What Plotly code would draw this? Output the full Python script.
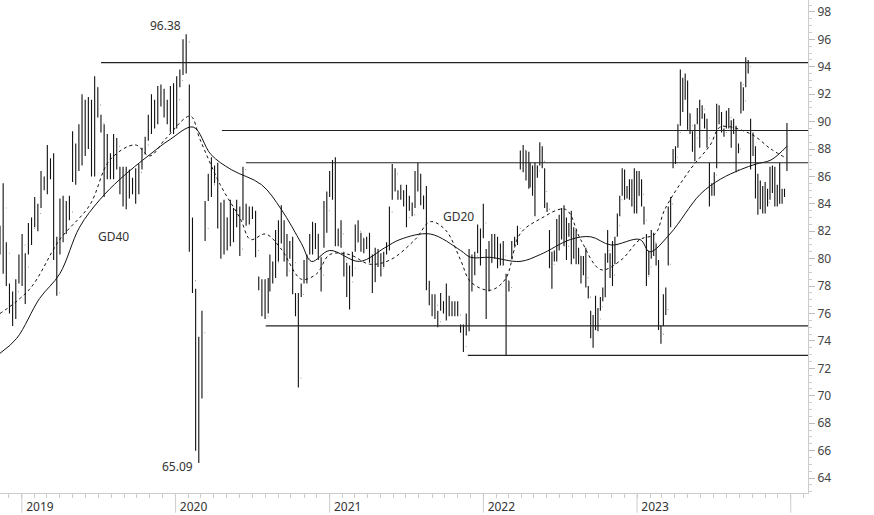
import numpy as np
import pandas as pd
import plotly.graph_objects as go

seg1 = [
(82.4,80.3,81.0),(85.5,78.9,83.7),(81.2,78,80.4),(78.2,76,76.6),(77.6,75.1,76.4),(78.5,75.6,77.6),(80.3,78.2,79.5),(81.8,78,81),(80.4,76.7,79.4),(82.6,80.3,81.2),(83,81,82.2),(84.5,82.3,83.3),(84,82,83.3),(86.4,83.7,85.6),(86,85,85.9),(88.3,84.7,87.3),(87.3,85.8,86.2),(87.7,79.9,80.5),(81.6,77.3,77.5),(84.4,80.3,81.4),(84.6,81.2,82.7),(84.2,81.8,82.9),(84.6,82.8,83.4),(89.3,85.6,87.4),(88.4,85.4,87),(89.8,86.4,88.7),(92,86.8,89.3),(91.6,87.5,89.6),(91.8,88,89.2),(91.6,86,86.1),(93.3,86,92.5),(92.5,90.3,91.2),(90.5,89.2,89.9),(89.8,84.5,87.3),(89.1,85.8,87.1),(87.7,85.8,86.4),(89.1,85.8,87.8),(88.8,86.5,88.2),(86.7,84.7,85.3),(86.7,83.8,84.8),(86.7,83.6,85.5),(86.5,84.4,85.2),(85.9,84.7,85.2),(86.6,84,85),(86.9,84.7,86.3),(88.1,86.5,87.9),(88.9,87.6,88.3),(90.5,88.6,89.9),(92,89.1,91.2),(91.6,89.5,90.8),(92.6,89.8,92.4),(92.7,91.1,91.8),(92.4,90.3,91.1),(91.6,89.8,90.5),(92.6,89.2,90.9),(92.8,89.1,89.6),(93.3,89.5,91.6),(93.8,92.5,93),(96.0,93.4,94.8),(96.38,93.5,95.8),(92.7,80.5,81.4),(83,77.5,78.4),(77.8,66,68),(74.3,65.09,70.5),(76.2,69.8,74.6),(84.2,81.3,82.2),
(86.2,84.2,85.2),(87.4,84.5,85.4),(86.8,85.5,86.3),(87,82.2,82.4),(84.1,80,81.9),(84.3,80.3,83),(83,80.6,81.9),(84.3,80.9,81.9),(83.7,81.2,82.6),(84.3,82.3,83.7),(83.8,80.2,80.7),(86.7,82.8,86.5),(84,82.4,82.8),(83.8,82.5,83.5),(83.8,82.9,83.4),(83.5,80.1,80.6),(78.7,77.7,78.1),(78.5,75.8,76.1),(78.5,75.6,75.8),(78.6,76,77.9),
]
seg2 = [
(80.3,77.6,78.5),(79.8,78.2,79.5),(82.1,78.6,79.7),(82.8,79.8,81.6),(83.9,81.1,82.6),(82.8,79.8,80.1),(81.8,78.7,79.1),(81.3,80,80.7),(81.6,77.4,79.7),(77.5,75.8,76.5),(77.5,70.6,71.3),(78.2,77.2,77.4),(79.9,78.2,79.7),(80.3,78.2,80),(81.8,80.3,81.2),(82.7,80.3,81.6),(82.6,80.7,81.8),(81.8,79.9,80.2),(80.1,77.6,78.8),(84.2,80.8,82.4),(84.9,81.9,83.5),(86.4,84.5,85.6),(87.2,84.3,86.4),(87.4,80.9,81.4),(82.2,80.9,81.7),(82.8,80.8,81.8),(80.5,78.7,79.9),(79.7,77.2,77.8),(79.5,76.3,78.3),(80.5,78.7,79.3),(82.5,80.5,81.2),(82.8,81.2,82),(81.9,80.5,81.5),(81.5,80.4,81),(81.6,80.7,81.2),(81.9,79.7,80.2),(80.3,77.5,78.3),(80.8,78.3,79.6),(80.7,79.4,80.2),(80.4,78.7,79.3),(80.5,79.4,79.8),(81.2,80.3,80.9),(83.8,80.6,83.4),(86.9,84.3,85.2),(86.6,84.9,86.2),(85,84.3,84.8),(85.4,84.3,84.9),(85,83.8,84.3),(85.4,82.3,83),(84.6,83.5,83.9),(84.1,83.1,83.2),(86.4,83.7,85.6),(87,84.9,86.1),(86.2,83.9,84.6),(84.6,83.6,84.1),(85.3,77.7,78),(78.4,76.6,77),(77.4,75.8,76.9),(77.4,75.6,76.6),(76.2,75,75.4),(77.5,76.2,76.9),(76.9,76,76.4),(78.2,75.5,76),(77.3,75.8,76.3),(76.9,75.8,76.5),(76.9,75.8,76.4),(76.9,75.8,75.9),(75.2,74.6,74.8),(75.2,73.2,73.6),(76,74.4,75.1),(80.7,74.7,79.5),(80.3,77.6,79.2),(80.5,78.8,80.2),(82.5,80.4,80.8),(82.2,79.5,81.7),(84,81.5,82.6),(80.7,75.6,79.5),(81.3,77.6,79.7),(81.8,79.7,80.3),(81.8,80,80.7),(81.6,79.3,79.9),(81.1,79.5,80.1),(81.3,79.5,80.2),(78.9,72.95,78.4),(78.4,77.6,77.9),(81.3,80,80.6),(81.6,80.9,81.2),(82.4,81,82.2),(87.9,86.5,87.3),(88.3,86.3,87.9),(87.9,85.7,86.8),(87.8,85.1,86),
]
seg3 = [
(87,85.2,86.5),(86.8,84.6,85.2),(87,83.1,86.1),(86.8,85.9,86.4),(88.5,86.8,87.3),(88.2,86.6,87.1),(86.6,83.7,84.9),(84.1,83.4,83.6),(82.1,79.3,79.7),(80.5,77.8,79.6),(80.6,79.8,80.2),(82.9,79.8,81.6),(83.2,80.6,81.8),(83.7,81.4,82.3),(83.9,80.9,81.8),(83,79.9,80.9),(82.6,81.6,82.3),(83.5,79.6,80.3),(82.3,80,81.4),(82.1,79.6,80),(80.8,79.6,80.2),(80.2,78.2,78.9),(80.2,78.8,79.3),(80.8,77.9,78.6),(78,77.1,77.2),(76.2,74.2,74.5),(75.9,73.5,74.8),(77.3,74.8,75.5),(76.4,74.7,75.6),(77.2,76.2,76.5),(77.9,76.9,77.2),(80.4,77.2,80),(82.1,79.7,80.6),(80.4,78.6,79.6),(81.3,78,78.8),(81.6,79.6,81),(83.3,81.6,82.4),(84.6,83.1,84.3),(86.6,84.6,85.5),(86.5,84.3,84.7),(85.3,84.4,84.9),(85.8,84.3,84.7),(85.8,83.8,85),(86.6,83.3,85.7),(86.4,83.3,84.6),(86.4,84.6,84.8),(85.8,83.8,84.7),(83.8,82.5,82.8),(81.8,78,78.7),(80.6,78.8,79.4),(82.1,80,80.9),(81.9,80.2,81.2),(81.1,79.5,79.8),(79.9,74.8,75.1),(75.1,73.8,74.5),(77.4,75.1,76.3),(77.9,75.9,76.3),(83.8,79.5,79.6),
(84.5,82.3,84),(88,86.6,87.2),(88.2,86.9,87.4),(89.8,88.1,89.2),(93.8,89.7,91.5),(93.2,90.7,92.8),(93.5,91.6,92.6),(93,89.4,90.6),(90.6,89.1,89.7),(89.3,87.8,88.3),(89.8,87.1,88.8),(91,89.8,90.2),(91.6,88.1,90.4),(91.2,90.2,90.9),(90.6,89.5,89.8),(90.2,88.1,88.8),(87,83.8,84.8),(85.5,84.6,84.9),(86.3,84.6,86.1),(91.3,86.6,90.9),(91.2,89.8,90.1),(90.7,89.2,89.7),(89.5,88.9,89.2),(90.8,89.5,89.9),(91,89.5,90.3),(90.1,88.1,89.9),(90.2,89.1,89.3),(89.7,86.3,86.5),(88.4,87.7,88),(92.9,90.6,92.7),(92.5,90.8,91.5),(94.7,92.5,94.2),(94.5,93.5,94),(90.2,86.5,88.4),(89.2,87.5,88),(88.2,84.4,84.6),(86.2,83.2,84),(85.7,83.6,84.3),(85.3,83.3,83.6),(85.6,83.3,84.8),(85.1,83.8,84.1),(86.7,84.3,86.6),(86.8,84.8,86),(86.7,83.8,84.9),(85.4,83.8,84.8),(87,84,84.6),(85.1,84,84.8),(85.1,84.5,84.9),(89.9,86.4,89.8),
]
seg_spans = [("2018-11-10", "2020-08-08"), ("2020-08-12", "2022-04-19"), ("2022-04-22", "2023-12-23")]

bars = seg1 + seg2 + seg3
highs = [b[0] for b in bars]
lows = [b[1] for b in bars]
closes = [b[2] for b in bars]
opens = [closes[0]] + closes[:-1]
opens[-1] = 86.5
dates = pd.DatetimeIndex(np.concatenate([pd.date_range(a, b, periods=len(s)).values
                                         for s, (a, b) in zip([seg1, seg2, seg3], seg_spans)]))

gd40_dates = ["2018-11-10","2018-12-20","2019-02-12","2019-04-01","2019-05-18","2019-07-05","2019-08-22","2019-11-01","2019-12-19","2020-02-12","2020-03-25","2020-05-12","2020-07-23","2020-09-08","2020-10-26","2020-11-19","2021-01-01","2021-03-13","2021-05-12","2021-06-17","2021-08-28","2021-11-08","2021-12-02","2022-01-17","2022-03-29","2022-05-16","2022-07-27","2022-09-13","2022-10-31","2023-01-08","2023-01-31","2023-03-20","2023-05-31","2023-07-18","2023-09-04","2023-10-10","2023-11-15","2023-12-23"]
gd40_vals = [73.1,74.2,77.1,78.9,82.3,84.3,85.8,87.6,88.7,89.6,87.6,86.5,85.4,83.6,81.1,79.8,80.6,79.8,80.8,81.4,81.8,80.6,80.1,80.1,79.8,80.3,81.4,81.6,81.0,81.4,80.5,81.8,84.7,85.8,86.5,86.9,87.2,88.2]
gd20_dates = ["2018-11-10","2019-01-20","2019-04-01","2019-06-11","2019-07-29","2019-09-27","2019-11-01","2019-12-07","2020-02-05","2020-02-28","2020-04-16","2020-06-03","2020-06-27","2020-08-02","2020-09-08","2020-10-26","2020-12-01","2021-01-01","2021-02-17","2021-04-06","2021-05-24","2021-07-23","2021-08-28","2021-10-03","2021-11-08","2021-12-02","2022-01-17","2022-02-22","2022-03-29","2022-05-16","2022-07-15","2022-08-20","2022-10-07","2022-11-24","2023-01-08","2023-02-13","2023-03-08","2023-05-07","2023-06-24","2023-07-18","2023-09-28","2023-11-15","2023-12-23"]
gd20_vals = [76.0,77.8,81.4,83.9,87.2,88.3,87.5,88.7,90.4,88.7,85.4,82.9,81.4,81.8,80.7,78.5,78.9,80.3,80.3,79.6,79.9,81.4,82.7,82.1,79.9,78.3,77.7,78.5,81.8,82.9,83.6,81.4,79.2,79.9,81.4,81.8,83.6,86.5,88.3,89.6,89.1,88.0,87.3]

level_starts = ["2019-07-08","2020-04-20","2020-06-16","2020-08-02","2021-11-25"]
level_values = [94.3,89.35,87.0,75.1,72.95]
year_ticks = ["2019-01-01","2020-01-01","2021-01-01","2022-01-01","2023-01-01","2024-01-01"]
year_labels = ["2019","2020","2021","2022","2023",""]

fig = go.Figure()
fig.add_trace(go.Ohlc(x=dates, open=opens, high=highs, low=lows, close=closes,
    increasing=dict(line=dict(color="#111", width=1.1)),
    decreasing=dict(line=dict(color="#111", width=1.1)),
    tickwidth=0.3, showlegend=False, hoverinfo="skip"))
fig.add_trace(go.Scatter(x=gd20_dates, y=gd20_vals, mode="lines", line=dict(color="#111", width=1, dash="dot", shape="spline"), showlegend=False))
fig.add_trace(go.Scatter(x=gd40_dates, y=gd40_vals, mode="lines", line=dict(color="#111", width=1, shape="spline"), showlegend=False))

xend = "2024-02-11"
for s, v in zip(level_starts, level_values):
    fig.add_shape(type="line", x0=s, x1=xend, y0=v, y1=v, xref="x", yref="y", line=dict(color="#222", width=1.2))
for t in year_ticks:
    fig.add_shape(type="line", x0=t, x1=t, y0=0, y1=-0.04, xref="x", yref="paper", line=dict(color="#ccc", width=1))

imax = int(np.argmax(highs)); imin = int(np.argmin(lows))
fnt = dict(family="Noto Sans, DejaVu Sans", size=12, color="#333")
fig.add_annotation(x=dates[imax], y=highs[imax], text=f"{highs[imax]:.2f}", showarrow=False, xanchor="right", yanchor="bottom", xshift=-3, yshift=-2, font=fnt)
fig.add_annotation(x=dates[imin], y=lows[imin], text=f"{lows[imin]:.2f}", showarrow=False, xanchor="right", yanchor="middle", xshift=-4, yshift=-3, font=fnt)
fig.add_annotation(x="2019-08-07", y=81.6, text="GD40", showarrow=False, font=fnt)
fig.add_annotation(x="2021-11-03", y=83.1, text="GD20", showarrow=False, font=fnt)

fig.update_layout(
    width=874, height=515, margin=dict(l=0, r=66, t=0, b=20),
    paper_bgcolor="white", plot_bgcolor="white",
    xaxis=dict(range=["2018-11-10", xend], rangeslider=dict(visible=False), showgrid=False,
               tickvals=year_ticks, ticktext=year_labels, ticks="outside", ticklen=3,
               tickcolor="#ccc", ticklabelshift=18, ticklabelstandoff=0,
               tickfont=dict(family="Noto Sans, DejaVu Sans", size=12, color="#333"),
               showline=True, linecolor="#ccc", zeroline=False,
               minor=dict(dtick="M1", ticks="outside", ticklen=4, tickcolor="#ccc")),
    yaxis=dict(side="right", range=[62.91, 98.87], tickvals=list(range(64, 99, 2)),
               ticks="outside", ticklen=6, tickcolor="#bbb", showgrid=False, zeroline=False,
               showline=True, linecolor="#ccc",
               tickfont=dict(family="Noto Sans, DejaVu Sans", size=12, color="#444"),
               minor=dict(dtick=0.5, ticks="outside", ticklen=3, tickcolor="#ccc")),
)
fig.write_html("out.html", config={"displayModeBar": False},
               post_script="document.body.style.margin='0';document.body.style.overflow='hidden';")
